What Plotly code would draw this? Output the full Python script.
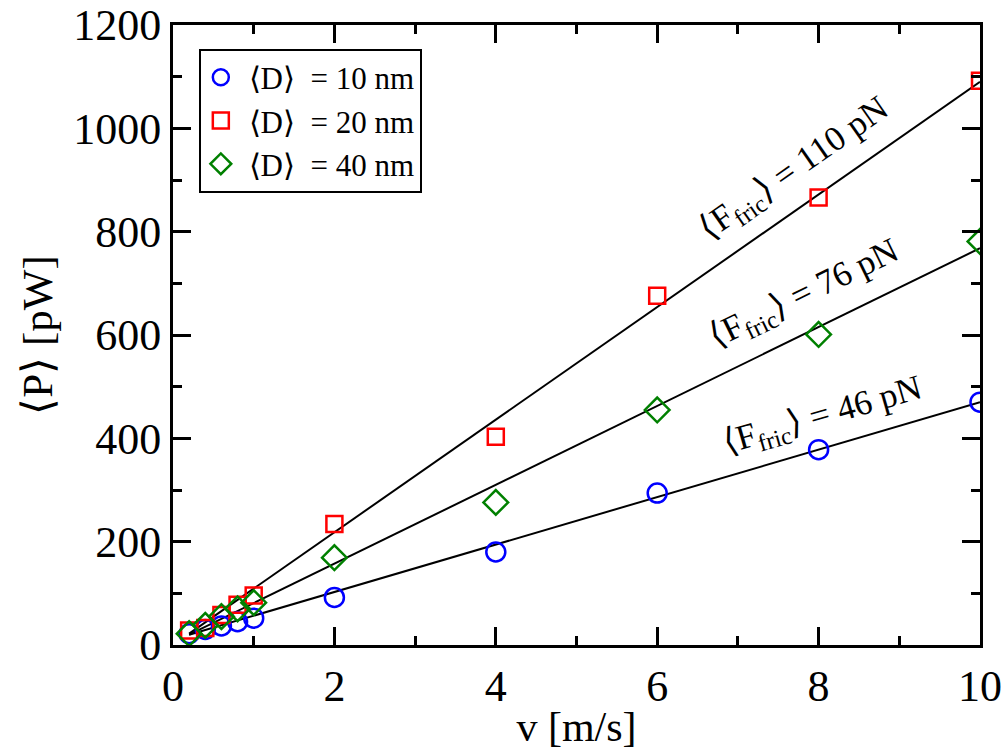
import plotly.graph_objects as go

v = [0.2, 0.4, 0.6, 0.8, 1.0, 2.0, 4.0, 6.0, 8.0, 10.0]
P_10nm = [22, 30, 37, 45, 52, 92, 180, 294, 378, 470]
P_20nm = [28, 33, 58, 78, 96, 234, 403, 676, 866, 1092]
P_40nm = [22, 38, 55, 70, 82, 169, 276, 455, 601, 781]

fit_v = [0.2, 10.0]
fit_46 = [20, 470]
fit_76 = [20, 768]
fit_110 = [22, 1090]

x_ticks = [0, 2, 4, 6, 8, 10]
y_ticks = [0, 200, 400, 600, 800, 1000, 1200]

series_names = ["\u00a0\u27e8D\u27e9\u00a0 = 10 nm", "\u00a0\u27e8D\u27e9\u00a0 = 20 nm", "\u00a0\u27e8D\u27e9\u00a0 = 40 nm"]
fit_labels = ["\u27e8F<sub>fric</sub>\u27e9 = 46 pN", "\u27e8F<sub>fric</sub>\u27e9 = 76 pN",
              "\u27e8F<sub>fric</sub>\u27e9 = 110 pN"]
label_x = [8.05, 7.83, 7.70]
label_y = [442, 678, 920]
label_angle = [-16, -26, -35]

FONT = "Liberation Serif, Times New Roman, serif"

fig = go.Figure()
for fy in (fit_46, fit_76, fit_110):
    fig.add_trace(go.Scatter(x=fit_v, y=fy, mode="lines", line=dict(color="black", width=2),
                             showlegend=False, hoverinfo="skip"))

fig.add_trace(go.Scatter(x=v, y=P_10nm, mode="markers", name=series_names[0],
                         marker=dict(symbol="circle-open", size=19, color="blue", line=dict(width=2.5, color="blue"))))
fig.add_trace(go.Scatter(x=v, y=P_20nm, mode="markers", name=series_names[1],
                         marker=dict(symbol="square-open", size=16, color="red", line=dict(width=2.5, color="red"))))
fig.add_trace(go.Scatter(x=v, y=P_40nm, mode="markers", name=series_names[2],
                         marker=dict(symbol="diamond-open", size=19, color="green", line=dict(width=2.5, color="green"))))

for txt, x, y, ang in zip(fit_labels, label_x, label_y, label_angle):
    fig.add_annotation(x=x, y=y, text=txt, showarrow=False, textangle=ang,
                       font=dict(family=FONT, size=35, color="black"))

axis_common = dict(showline=True, linewidth=3, linecolor="black", mirror="ticks",
                   ticks="inside", ticklen=18, tickwidth=3, tickcolor="black",
                   showgrid=False, zeroline=False, ticklabeloverflow="allow",
                   automargin=False,
                   tickfont=dict(family=FONT, size=44, color="black"))

fig.update_xaxes(range=[0, 10], tickmode="array", tickvals=x_ticks,
                 minor=dict(dtick=1, ticks="inside", ticklen=9, tickwidth=3, tickcolor="black"),
                 title=dict(text="v [m/s]", font=dict(family=FONT, size=42, color="black"), standoff=2),
                 **axis_common)
fig.update_yaxes(range=[0, 1200], tickmode="array", tickvals=y_ticks,
                 minor=dict(dtick=100, ticks="inside", ticklen=9, tickwidth=3, tickcolor="black"),
                 title=dict(text="\u27e8P\u27e9 [pW]", font=dict(family=FONT, size=43, color="black"), standoff=8),
                 **axis_common)

fig.update_layout(
    width=1005, height=755,
    margin=dict(l=173, r=25, t=25, b=110, autoexpand=False),
    plot_bgcolor="white", paper_bgcolor="white",
    legend=dict(x=0.032, y=0.962, xanchor="left", yanchor="top",
                bordercolor="black", borderwidth=2, bgcolor="white",
                font=dict(family=FONT, size=31, color="black"),
                itemwidth=30, tracegroupgap=0),
)

fig.write_html("out.html")
